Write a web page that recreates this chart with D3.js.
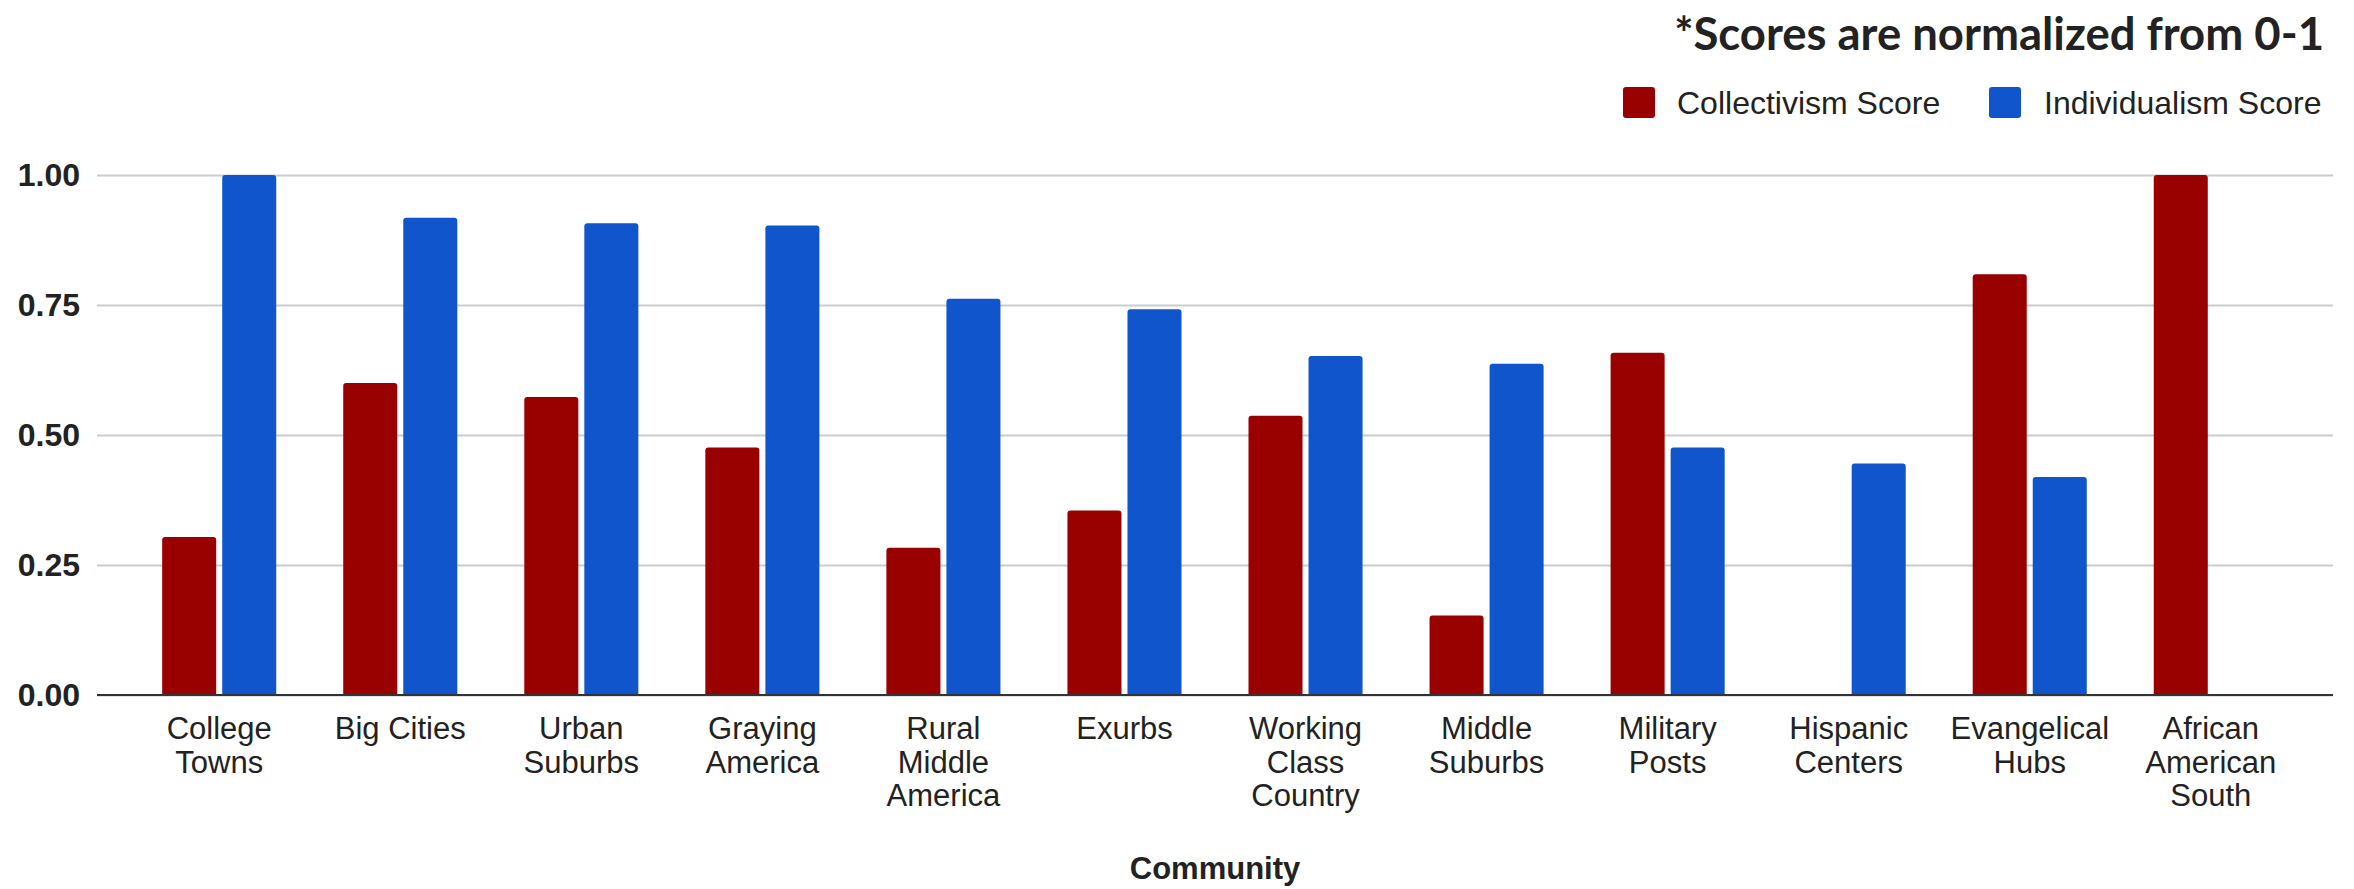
<!DOCTYPE html>
<html>
<head>
<meta charset="utf-8">
<script src="https://cdn.jsdelivr.net/npm/d3@7"></script>
<style>
  body { margin: 0; background: #fff; }
  text { font-family: "Liberation Sans", Arial, sans-serif; fill: #222; }
</style>
</head>
<body>
<script>
const width = 2354;
const height = 889;

// data
const categories = [
  "College Towns", "Big Cities", "Urban Suburbs", "Graying America",
  "Rural Middle America", "Exurbs", "Working Class Country", "Middle Suburbs",
  "Military Posts", "Hispanic Centers", "Evangelical Hubs", "African American South"
];
const tickLines = [
  ["College", "Towns"], ["Big Cities"], ["Urban", "Suburbs"], ["Graying", "America"],
  ["Rural", "Middle", "America"], ["Exurbs"], ["Working", "Class", "Country"], ["Middle", "Suburbs"],
  ["Military", "Posts"], ["Hispanic", "Centers"], ["Evangelical", "Hubs"], ["African", "American", "South"]
];
const collectivism = [0.304, 0.600, 0.573, 0.476, 0.283, 0.355, 0.537, 0.153, 0.658, 0, 0.809, 1.0];
const individualism = [1.0, 0.918, 0.907, 0.903, 0.762, 0.742, 0.652, 0.637, 0.476, 0.445, 0.419, 0];
const seriesNames = ["Collectivism Score", "Individualism Score"];
const colors = ["#990000", "#1155cc"];
const yTicks = [0, 0.25, 0.5, 0.75, 1];

const margin = { top: 175, right: 21, bottom: 194, left: 97 };

const svg = d3.select("body").append("svg")
  .attr("width", width)
  .attr("height", height);

const x0 = d3.scaleBand()
  .domain(categories)
  .range([margin.left, width - margin.right])
  .paddingInner(0.37)
  .paddingOuter(0.36);

const x1 = d3.scaleBand()
  .domain(seriesNames)
  .range([0, x0.bandwidth()])
  .paddingInner(0.1);

const y = d3.scaleLinear()
  .domain([0, 1])
  .range([height - margin.bottom, margin.top]);

const color = d3.scaleOrdinal(seriesNames, colors);

// gridlines + y labels
const yAxis = svg.append("g")
  .attr("transform", `translate(${margin.left},0)`)
  .call(d3.axisLeft(y)
    .tickValues(yTicks)
    .tickFormat(d3.format(".2f"))
    .tickSize(-(width - margin.left - margin.right))
    .tickPadding(17));
yAxis.select(".domain").remove();
yAxis.selectAll(".tick line")
  .attr("stroke", "#cccccc")
  .attr("stroke-width", 2);
yAxis.selectAll(".tick text")
  .attr("font-size", 32)
  .attr("font-weight", "bold")
  .style("font-family", '"Liberation Sans", Arial, sans-serif')
  .attr("fill", "#111");

// bars
const rows = categories.map((c, i) => ({ cat: c, vals: [collectivism[i], individualism[i]] }));

function topRounded(x, yTop, w, h, r) {
  if (h <= 0) return "";
  r = Math.min(r, h, w / 2);
  return `M${x},${yTop + h}V${yTop + r}Q${x},${yTop} ${x + r},${yTop}` +
    `H${x + w - r}Q${x + w},${yTop} ${x + w},${yTop + r}V${yTop + h}Z`;
}

svg.append("g")
  .selectAll("g")
  .data(rows)
  .join("g")
  .attr("transform", d => `translate(${x0(d.cat)},0)`)
  .selectAll("path")
  .data(d => d.vals.map((v, k) => ({ key: seriesNames[k], value: v })))
  .join("path")
  .attr("fill", d => color(d.key))
  .attr("d", d => topRounded(x1(d.key), y(d.value), x1.bandwidth(), y(0) - y(d.value), 3));

// x axis
const xAxis = svg.append("g")
  .attr("transform", `translate(0,${y(0)})`)
  .call(d3.axisBottom(x0).tickSize(0).tickFormat(""));
xAxis.select(".domain")
  .attr("stroke", "#333")
  .attr("stroke-width", 2)
  .attr("d", `M${margin.left},0H${width - margin.right}`);

xAxis.selectAll(".tick text").remove();
xAxis.selectAll(".tick")
  .append("text")
  .attr("text-anchor", "middle")
  .attr("font-size", 31)
  .attr("fill", "#222")
  .selectAll("tspan")
  .data((d, i) => tickLines[i])
  .join("tspan")
  .attr("x", 0)
  .attr("y", (d, i) => 44 + i * 33.5)
  .text(d => d);

// axis title
svg.append("text")
  .attr("x", (margin.left + width - margin.right) / 2)
  .attr("y", 879)
  .attr("text-anchor", "middle")
  .attr("font-size", 31)
  .attr("font-weight", "bold")
  .attr("fill", "#111")
  .text("Community");

// legend
const legend = svg.append("g");
const legendItems = [
  { name: seriesNames[0], sx: 1623, tx: 1677 },
  { name: seriesNames[1], sx: 1989, tx: 2044 }
];
legend.selectAll("rect")
  .data(legendItems)
  .join("rect")
  .attr("x", d => d.sx)
  .attr("y", 87)
  .attr("width", 32)
  .attr("height", 31)
  .attr("rx", 3)
  .attr("fill", d => color(d.name));
legend.selectAll("text")
  .data(legendItems)
  .join("text")
  .attr("x", d => d.tx)
  .attr("y", 114)
  .attr("font-size", 32)
  .attr("fill", "#222")
  .text(d => d.name);

// note in the top right corner, stretched to the width seen in the picture
const note = svg.append("text")
  .attr("x", 2324)
  .attr("y", 50)
  .attr("text-anchor", "end")
  .attr("font-weight", "bold")
  .attr("font-size", 40)
  .attr("fill", "#000")
  .style("font-family", "Lato, 'Open Sans', sans-serif")
  .text("*Scores are normalized from 0-1");
const w = note.node().getComputedTextLength();
note.attr("font-size", 40 * 650 / w);
</script>
</body>
</html>
